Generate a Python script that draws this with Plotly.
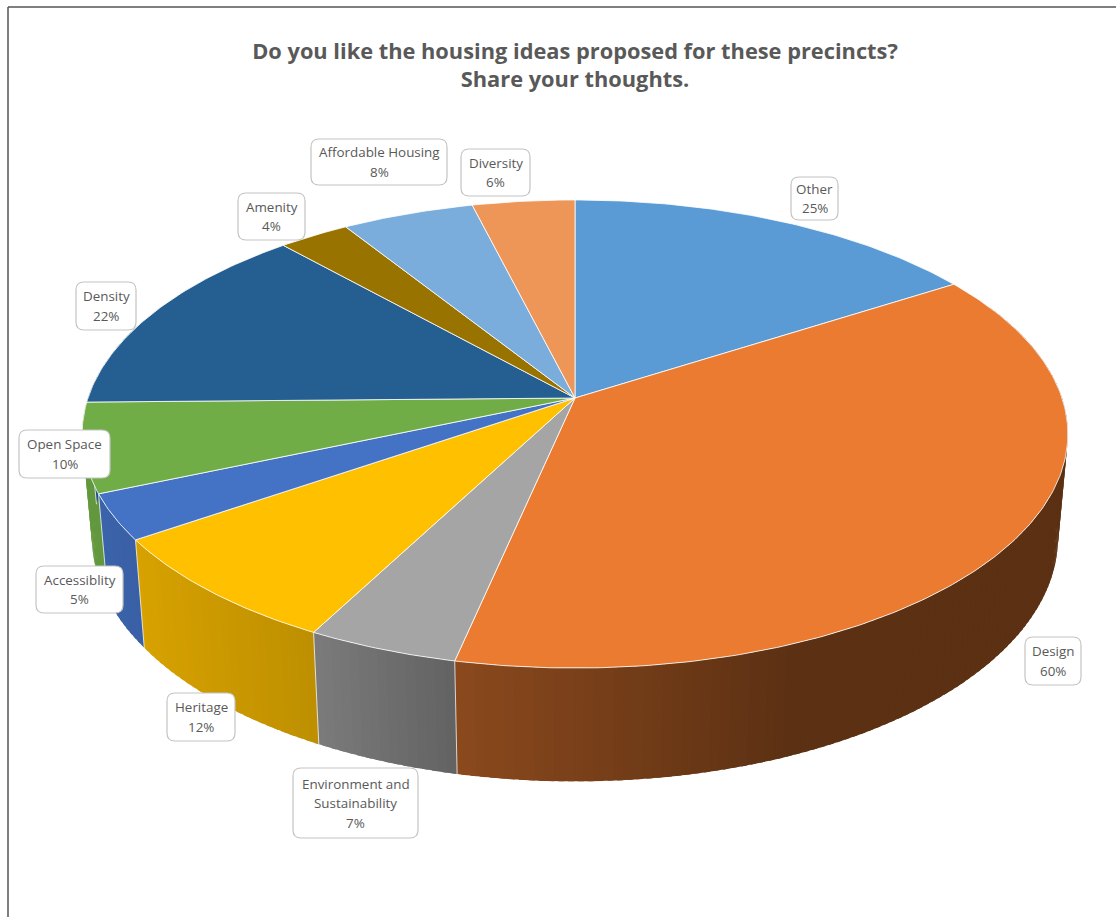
import numpy as np
import plotly.graph_objects as go

categories = ["Other", "Design", "Environment and Sustainability", "Heritage", "Accessiblity",
              "Open Space", "Density", "Amenity", "Affordable Housing", "Diversity"]
values = [25.35, 59.5, 6.85, 12.3, 5.0, 9.8, 21.7, 4.3, 8.0, 6.2]
colors = ["#5B9BD5", "#EA7B31", "#A5A5A5", "#FFC000", "#4472C4",
          "#70AD47", "#255E91", "#997300", "#7AADDC", "#EE9558"]
label_lines = [["Other"], ["Design"], ["Environment and", "Sustainability"], ["Heritage"], ["Accessiblity"],
               ["Open Space"], ["Density"], ["Amenity"], ["Affordable Housing"], ["Diversity"]]
percent_labels = ["25%", "60%", "7%", "12%", "5%", "10%", "22%", "4%", "8%", "6%"]
# label box edges in the picture: left, right, top, bottom
label_boxes = [(791, 838, 177, 220), (1025, 1081, 637, 685), (293, 418, 768, 838), (167, 235, 693, 741),
               (36, 123, 566, 613), (19, 110, 430, 478), (76, 136, 282, 330), (238, 305, 193, 240),
               (311, 447, 139, 185), (461, 530, 149, 196)]

# projection of the tilted disc
CX, CY = 575.0, 398.0
A, B, K = 228.5, 487.0, 0.1538
BOTTOM_X, BOTTOM_Y, DROP = 0.98, 1.042, 102.0
SHADE_X = [90, 140, 319, 460, 800, 1116]
SHADE_F = [0.88, 0.84, 0.74, 0.59, 0.39, 0.39]


def project(deg, bottom=False):
    t = np.radians(deg)
    u, v = np.sin(t), -np.cos(t)
    w = 1 - K * v
    x, y = B * u / w, A * v / w
    if bottom:
        x, y = x * BOTTOM_X, y * BOTTOM_Y + DROP
    return CX + x, CY + y


def shade(hex_color, x):
    f = float(np.interp(x, SHADE_X, SHADE_F))
    rgb = [int(hex_color[i:i + 2], 16) for i in (1, 3, 5)]
    return "rgb(%d,%d,%d)" % tuple(round(c * f) for c in rgb)


total = sum(values)
edges = np.concatenate([[0], np.cumsum(values)]) / total * 360.0
fig = go.Figure()

# side wall, visible part only; each band runs slightly under the next so no seams show
for i, c in enumerate(colors):
    lo, hi = max(edges[i], 65.0), min(edges[i + 1], 290.0)
    if hi <= lo:
        continue
    n = max(2, int((hi - lo) / 1.0))
    steps = np.linspace(lo, hi, n + 1)
    for a0, a1 in zip(steps[:-1], steps[1:]):
        fine = np.linspace(a0, a1 + 0.6, 3)
        xt, yt = project(fine)
        xb, yb = project(fine[::-1], True)
        xm = float(project((a0 + a1) / 2)[0])
        fig.add_trace(go.Scatter(x=np.r_[xt, xb, xt[0]], y=np.r_[yt, yb, yt[0]], mode="lines",
                                 fill="toself", fillcolor=shade(c, xm), line=dict(width=0),
                                 hoverinfo="skip", showlegend=False))
# wall seams
for e in edges:
    if 100.0 < e < 285.0:
        xt, yt = project(e)
        xb, yb = project(e, True)
        fig.add_trace(go.Scatter(x=[xt, xb], y=[yt, yb], mode="lines",
                                 line=dict(color="rgba(255,255,255,0.75)", width=1),
                                 hoverinfo="skip", showlegend=False))

# top face
for i, c in enumerate(colors):
    arc = np.linspace(edges[i], edges[i + 1], max(8, int((edges[i + 1] - edges[i]) * 1.5)))
    ax, ay = project(arc)
    fig.add_trace(go.Scatter(x=np.r_[CX, ax, CX], y=np.r_[CY, ay, CY], mode="lines", fill="toself",
                             fillcolor=c, line=dict(color="rgba(255,255,255,0.8)", width=1),
                             name=categories[i], showlegend=False, hoverinfo="text",
                             text=f"{categories[i]}: {percent_labels[i]}"))

shapes = [dict(type="line", xref="paper", yref="paper", x0=8 / 1116, x1=8 / 1116, y0=0, y1=1 - 7 / 917,
               line=dict(color="#555555", width=1.5)),
          dict(type="line", xref="paper", yref="paper", x0=8 / 1116, x1=1, y0=1 - 7 / 917, y1=1 - 7 / 917,
               line=dict(color="#555555", width=1.5))]
annotations = []
R = 8
for lines, pct, (x0, x1, y0, y1) in zip(label_lines, percent_labels, label_boxes):
    path = (f"M{x0 + R},{y0} L{x1 - R},{y0} Q{x1},{y0} {x1},{y0 + R} L{x1},{y1 - R} Q{x1},{y1} {x1 - R},{y1} "
            f"L{x0 + R},{y1} Q{x0},{y1} {x0},{y1 - R} L{x0},{y0 + R} Q{x0},{y0} {x0 + R},{y0} Z")
    shapes.append(dict(type="path", path=path, xref="x", yref="y", fillcolor="white",
                       line=dict(color="#C4C4C4", width=1.2), layer="above"))
    rows = lines + [pct]
    mid = (y0 + y1) / 2
    for r, text in enumerate(rows):
        annotations.append(dict(x=(x0 + x1) / 2, y=mid + (r - (len(rows) - 1) / 2) * 19.5, xref="x", yref="y",
                                text=text, showarrow=False, xanchor="center", yanchor="middle",
                                font=dict(family="Open Sans", size=13.4, color="#595959")))

fig.update_layout(
    width=1116, height=917, margin=dict(l=0, r=0, t=0, b=0),
    paper_bgcolor="white", plot_bgcolor="white", showlegend=False,
    title=dict(text="Do you like the housing ideas proposed for these precincts?<br>Share your thoughts.",
               x=575 / 1116, xanchor="center", y=1 - 59 / 917, yanchor="top",
               font=dict(family="Open Sans", size=21.8, color="#595959", weight="bold")),
    xaxis=dict(range=[0, 1116], visible=False, fixedrange=True),
    yaxis=dict(range=[917, 0], visible=False, fixedrange=True),
    shapes=shapes, annotations=annotations,
)
fig.write_html("out.html", post_script="document.body.style.margin='0';", config=dict(displayModeBar=False))
